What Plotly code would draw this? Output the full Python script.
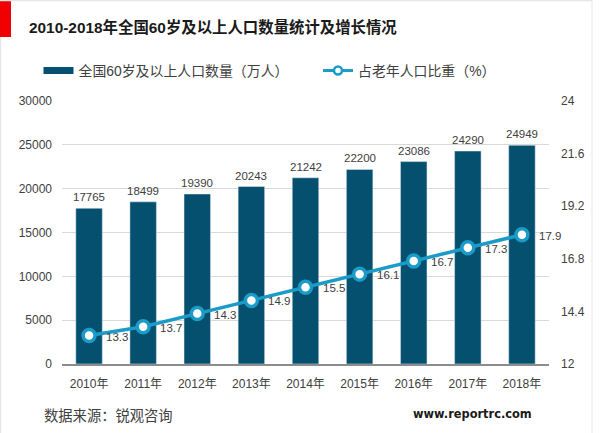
import plotly.graph_objects as go

years = ["2010年","2011年","2012年","2013年","2014年","2015年","2016年","2017年","2018年"]
population = [17765,18499,19390,20243,21242,22200,23086,24290,24949]
share = [13.3,13.7,14.3,14.9,15.5,16.1,16.7,17.3,17.9]
left_ticks = [0,5000,10000,15000,20000,25000,30000]
right_ticks = [12,14.4,16.8,19.2,21.6,24]
right_labels = ["12","14.4","16.8","19.2","21.6","24"]
title = "2010-2018年全国60岁及以上人口数量统计及增长情况"
bar_name = "全国60岁及以上人口数量（万人）"
line_name = "占老年人口比重（%）"
source = "数据来源：锐观咨询"
site = "www.reportrc.com"

W, H = 600, 433
L, R, T, B = 62, 51, 101, 69
PW, PH = W - L - R, H - T - B
FONT = "Liberation Sans, Arial, Noto Sans CJK SC, sans-serif"
DARK = "#05506e"
BLUE = "#1a9bc8"
TXT = "#404040"
EDGE = "#e6e6e6"

def px(x): return (x - L) / PW
def py(y): return (H - B - y) / PH

fig = go.Figure()
fig.add_bar(x=years, y=population, marker=dict(color=DARK), width=0.49, showlegend=False)
fig.add_scatter(x=[None], y=[None], mode="lines", name=bar_name,
                line=dict(color=DARK, width=7), legend="legend")
fig.add_scatter(x=years, y=share, yaxis="y2", mode="lines+markers", showlegend=False,
                line=dict(color=BLUE, width=3.5),
                marker=dict(size=12, color="white", line=dict(color=BLUE, width=3.5)),
                cliponaxis=False)
fig.add_scatter(x=[None], y=[None], yaxis="y2", mode="lines+markers", name=line_name,
                line=dict(color=BLUE, width=3),
                marker=dict(size=8, color="white", line=dict(color=BLUE, width=2.5)),
                legend="legend2")

notes = [dict(x=c, y=v, xref="x", yref="y", text=str(v), xanchor="center", yanchor="bottom",
              yshift=3, showarrow=False, font=dict(size=11.5, color=TXT))
         for c, v in zip(years, population)]
notes += [dict(x=c, y=v, xref="x", yref="y2", text=str(v), xanchor="left", yanchor="middle",
               xshift=15, yshift=-1, showarrow=False, font=dict(size=11.5, color=TXT))
          for c, v in zip(years, share)]
notes += [
    dict(text=source, xref="paper", yref="paper", x=px(42), y=py(416), xanchor="left", yanchor="middle",
         showarrow=False, font=dict(size=14.3, color=TXT)),
    dict(text=f"<b>{site}</b>", xref="paper", yref="paper", x=px(411), y=py(414), xanchor="left", yanchor="middle",
         showarrow=False, font=dict(size=11.4, color="#1a1a1a", family="DejaVu Sans, sans-serif")),
]

fig.update_layout(
    width=W, height=H, autosize=False,
    margin=dict(l=L, r=R, t=T, b=B),
    paper_bgcolor="white", plot_bgcolor="white",
    font=dict(family=FONT, color=TXT, size=12),
    bargap=0.5,
    title=dict(text=f"<b>{title}</b>", x=29/W, xanchor="left", y=1-28/H, yanchor="middle",
               font=dict(size=15.4, color="#1a1a1a", family=FONT)),
    xaxis=dict(range=[-0.5, 8.5], showgrid=False, linecolor="#8c8c8c", linewidth=1.5, ticks="",
               tickfont=dict(size=12, color=TXT), ticklabelstandoff=8),
    yaxis=dict(range=[0,30000], tickvals=left_ticks, tickformat="d", showgrid=True, gridcolor="#d9d9d9", gridwidth=1.2,
               zeroline=False, tickfont=dict(size=12, color=TXT), ticklabelstandoff=9),
    yaxis2=dict(range=[12,24], overlaying="y", side="right", tickvals=right_ticks, ticktext=right_labels,
                showgrid=False, zeroline=False, tickfont=dict(size=12, color=TXT), ticklabelstandoff=11),
    legend=dict(x=px(38.5), y=py(71), xanchor="left", yanchor="middle", orientation="h",
                bgcolor="rgba(0,0,0,0)", font=dict(size=13.9, color=TXT), itemwidth=30),
    legend2=dict(x=px(318), y=py(71), xanchor="left", yanchor="middle", orientation="h",
                 bgcolor="rgba(0,0,0,0)", font=dict(size=13.9, color=TXT), itemwidth=30),
    annotations=notes,
    shapes=[
        dict(type="rect", xref="paper", yref="paper", x0=px(0), x1=px(11), y0=py(37), y1=py(0),
             fillcolor="#f00000", line_width=0, layer="above"),
        dict(type="line", xref="paper", yref="paper", x0=px(592), x1=px(592), y0=py(H), y1=py(0),
             line=dict(color=EDGE, width=1)),
        dict(type="line", xref="paper", yref="paper", x0=px(0), x1=px(592), y0=py(0.5), y1=py(0.5),
             line=dict(color=EDGE, width=1.5)),
        dict(type="line", xref="paper", yref="paper", x0=px(0.5), x1=px(0.5), y0=py(H), y1=py(37),
             line=dict(color=EDGE, width=1.5)),
    ],
)
fig.write_html("out.html", post_script="document.body.style.margin='0';",
               config=dict(displayModeBar=False))
